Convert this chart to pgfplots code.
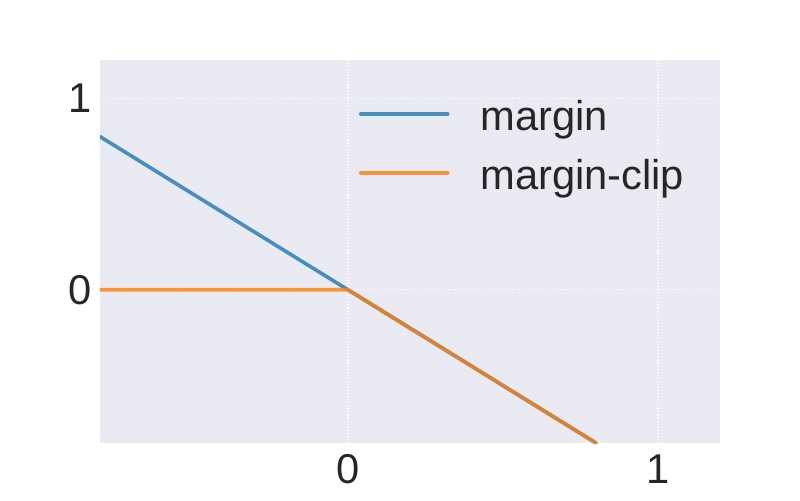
\documentclass[border=0pt]{standalone}
\usepackage{pgfplots}
\pgfplotsset{compat=1.18}
\usepackage{fontspec}
\setmainfont{Liberation Sans}
\definecolor{bg}{HTML}{EAEAF2}
\definecolor{c0}{HTML}{1F77B4}
\definecolor{c1}{HTML}{FF7F0E}
\definecolor{txt}{HTML}{262626}
\begin{document}
\begin{tikzpicture}
\path[use as bounding box, fill=white] (-72pt,-41.04pt) rectangle (504pt,318.96pt);
\begin{axis}[
  at={(0,0)}, anchor=south west,
  scale only axis, width=446.4pt, height=275.76pt,
  xmin=-0.8, xmax=1.2, ymin=-0.8, ymax=1.2,
  axis background/.style={fill=bg},
  axis line style={draw=none},
  xtick={0,1}, ytick={0,1},
  major tick length=0pt,
  grid=major,
  major grid style={white, line width=0.8pt, dash pattern=on 0.8pt off 1.4pt},
  tick label style={font=\fontsize{30}{36}\selectfont, text=txt},
  /pgf/number format/assume math mode=true,
  xticklabel style={yshift=-4.8pt},
  yticklabel style={xshift=-2.5pt},
  legend image code/.code={\draw[#1] (0pt,4.2pt) -- (62.6pt,4.2pt);},
  legend cell align=left,
  legend style={at={(0.4172,0.8977)}, anchor=north west, draw=none, fill=none,
    inner sep=0pt, column sep=22.2pt, row sep=13.5pt,
    font=\fontsize{30}{36}\selectfont, text=txt,
    nodes={inner sep=0pt, text height=22pt, text depth=7pt}},
]
\addplot[c0, draw opacity=0.8, line width=2.6pt, line cap=round] coordinates {(-0.8,0.8) (0,0) (0.8,-0.8)};
\addlegendentry{margin}
\addplot[c1, draw opacity=0.8, line width=2.6pt, line cap=round] coordinates {(-0.8,0) (0,0) (0.8,-0.8)};
\addlegendentry{margin-clip}
\end{axis}
\end{tikzpicture}
\end{document}
